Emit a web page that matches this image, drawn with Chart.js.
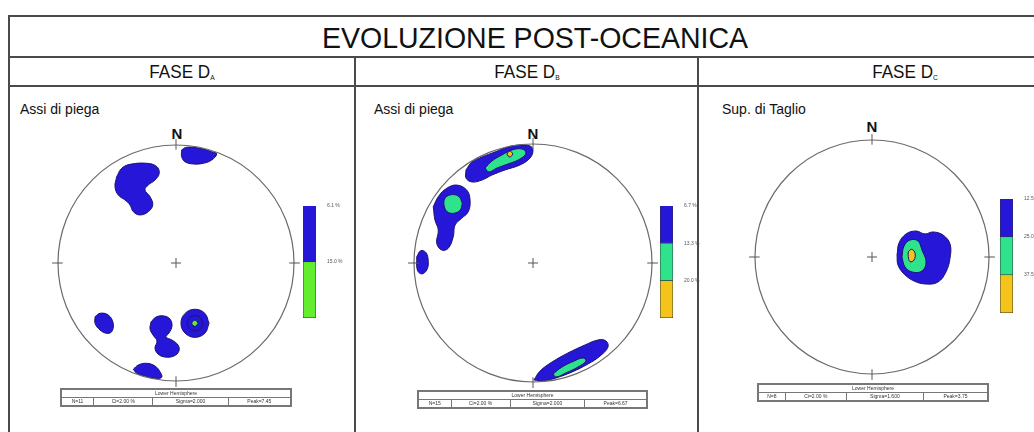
<!DOCTYPE html>
<html>
<head>
<meta charset="utf-8">
<script src="https://cdn.jsdelivr.net/npm/chart.js@4.4.1/dist/chart.umd.min.js"></script>
<style>
  body { margin: 0; width: 1034px; height: 432px; overflow: hidden; background: #fff;
         position: relative; font-family: "Liberation Sans", Arial, sans-serif; color: #111; }
  .line { position: absolute; background: #4a4a4a; }
  .txt { position: absolute; white-space: nowrap; }
  .title { left: 300px; width: 470px; top: 21px; text-align: center; font-size: 30px; line-height: 34px;
           transform: scaleX(0.95); }
  .fase { top: 62px; width: 200px; text-align: center; font-size: 18px; line-height: 20px; transform: scaleX(0.95); }
  .fase sub { font-size: 7px; vertical-align: -2px; }
  .lab { top: 101px; font-size: 14px; }
  .north { font-weight: bold; font-size: 15px; width: 20px; text-align: center; }
  canvas { position: absolute; }
  table.foot { position: absolute; border-collapse: collapse; border: 2px solid #777;
               font-size: 5px; line-height: 7px; color: #333; }
  table.foot td { border: 1px solid #777; text-align: center; padding: 0; height: 7px; }
</style>
</head>
<body>
<!-- frame -->
<div class="line" style="left:8px;top:15px;width:1040px;height:2px"></div>
<div class="line" style="left:8px;top:15px;width:2px;height:430px"></div>
<div class="line" style="left:8px;top:56px;width:1040px;height:2px"></div>
<div class="line" style="left:8px;top:85px;width:1040px;height:2px"></div>
<div class="line" style="left:354px;top:56px;width:2px;height:380px"></div>
<div class="line" style="left:697px;top:56px;width:2px;height:380px"></div>

<div class="txt title">EVOLUZIONE POST-OCEANICA</div>
<div class="txt fase" style="left:82px">FASE D<sub>A</sub></div>
<div class="txt fase" style="left:427px">FASE D<sub>B</sub></div>
<div class="txt fase" style="left:805px">FASE D<sub>C</sub></div>

<div class="txt lab" style="left:20px">Assi di piega</div>
<div class="txt lab" style="left:374px">Assi di piega</div>
<div class="txt lab" style="left:722px">Sup. di Taglio</div>

<div class="txt north" style="left:167px;top:125px">N</div>
<div class="txt north" style="left:523px;top:125px">N</div>
<div class="txt north" style="left:862px;top:118px">N</div>

<canvas id="netA" width="270" height="270" style="left:41px;top:128px"></canvas>
<canvas id="netB" width="270" height="270" style="left:398px;top:128px"></canvas>
<canvas id="netC" width="270" height="270" style="left:737px;top:122px"></canvas>

<canvas id="barA" width="52" height="124" style="left:302px;top:200px"></canvas>
<canvas id="barB" width="52" height="124" style="left:659px;top:200px"></canvas>
<canvas id="barC" width="52" height="126" style="left:999px;top:193px"></canvas>

<table class="foot" style="left:60px;top:388px;width:232px">
  <tr><td colspan="4">Lower Hemisphere</td></tr>
  <tr><td>N=11</td><td>Ci=2.00 %</td><td>Sigma=2.000</td><td>Peak=7.45</td></tr>
</table>
<table class="foot" style="left:417px;top:390px;width:231px">
  <tr><td colspan="4">Lower Hemisphere</td></tr>
  <tr><td>N=15</td><td>Ci=2.00 %</td><td>Sigma=2.000</td><td>Peak=6.67</td></tr>
</table>
<table class="foot" style="left:757px;top:383px;width:232px">
  <tr><td colspan="4">Lower Hemisphere</td></tr>
  <tr><td>N=8</td><td>Ci=2.00 %</td><td>Sigma=1.600</td><td>Peak=3.75</td></tr>
</table>

<script>
// === Colours ===
const BLUE = "#2616d8";
const LIME = "#62ee2e";
const SPRING = "#2fe38c";
const GOLD = "#f4c41a";
const EDGE = "#1a1470";

// === Legend levels (density classes) ===
const levelsA = ["6.1 %", "15.0 %"];
const levelsB = ["6.7 %", "13.3 %", "20.0 %"];
const levelsC = ["12.5 %", "25.0 %", "37.5 %"];
const colorsA = [BLUE, LIME];
const colorsB = [BLUE, SPRING, GOLD];
const colorsC = [BLUE, SPRING, GOLD];

// === Contour outlines, stereonet units (x = E, y = N, primitive radius 1) ===
// Fase DA
const faseA_blue = [
  [[0.048,0.958],[0.09,0.981],[0.203,0.972],[0.303,0.943],[0.345,0.924],[0.303,0.873],[0.232,0.845],[0.147,0.839],[0.076,0.858],[0.048,0.901]],
  [[-0.503,0.731],[-0.46,0.803],[-0.39,0.836],[-0.248,0.845],[-0.164,0.818],[-0.142,0.76],[-0.178,0.703],[-0.235,0.661],[-0.263,0.619],[-0.22,0.562],[-0.197,0.492],[-0.235,0.435],[-0.305,0.407],[-0.362,0.435],[-0.39,0.492],[-0.432,0.534],[-0.489,0.576],[-0.517,0.647]],
  [[-0.686,-0.455],[-0.644,-0.426],[-0.574,-0.441],[-0.532,-0.511],[-0.545,-0.582],[-0.587,-0.596],[-0.644,-0.568],[-0.686,-0.511]],
  [[-0.212,-0.5],[-0.169,-0.458],[-0.102,-0.449],[-0.051,-0.475],[-0.034,-0.534],[-0.059,-0.593],[-0.085,-0.627],[-0.034,-0.653],[0.017,-0.695],[0.025,-0.746],[-0.017,-0.788],[-0.093,-0.797],[-0.153,-0.771],[-0.178,-0.72],[-0.161,-0.661],[-0.195,-0.61],[-0.22,-0.559]],
  [[0.28,-0.511],[0.245,-0.427],[0.161,-0.392],[0.077,-0.427],[0.042,-0.511],[0.077,-0.595],[0.161,-0.63],[0.245,-0.595]],
  [[-0.362,-0.901],[-0.319,-0.864],[-0.248,-0.85],[-0.178,-0.873],[-0.136,-0.921],[-0.121,-0.969],[-0.178,-0.977],[-0.263,-0.958],[-0.333,-0.935]]
];
const faseA_ring = [
  [[0.226,-0.511],[0.207,-0.465],[0.161,-0.446],[0.115,-0.465],[0.096,-0.511],[0.115,-0.557],[0.161,-0.576],[0.207,-0.557]]
];
const faseA_green = [
  [[0.188,-0.511],[0.161,-0.484],[0.134,-0.511],[0.161,-0.538]]
];

// Fase DB
const faseB_blue = [
  [[-0.563,0.782],[-0.513,0.849],[-0.429,0.891],[-0.319,0.933],[-0.21,0.975],[-0.109,0.992],[-0.025,0.983],[0,0.95],[-0.025,0.882],[-0.109,0.824],[-0.235,0.782],[-0.345,0.739],[-0.429,0.697],[-0.513,0.681],[-0.563,0.714]],
  [[-0.838,0.473],[-0.796,0.557],[-0.725,0.628],[-0.641,0.655],[-0.557,0.613],[-0.529,0.529],[-0.544,0.431],[-0.599,0.376],[-0.655,0.319],[-0.67,0.221],[-0.712,0.124],[-0.767,0.109],[-0.809,0.166],[-0.796,0.277],[-0.824,0.361]],
  [[-0.977,0.053],[-0.944,0.103],[-0.899,0.087],[-0.88,0.011],[-0.893,-0.059],[-0.935,-0.092],[-0.972,-0.059]],
  [[0.008,-0.983],[0.059,-0.908],[0.16,-0.832],[0.294,-0.756],[0.437,-0.689],[0.546,-0.647],[0.613,-0.655],[0.63,-0.706],[0.563,-0.782],[0.462,-0.849],[0.328,-0.916],[0.193,-0.966],[0.092,-0.99]]
];
const faseB_green = [
  [[-0.403,0.798],[-0.345,0.857],[-0.261,0.908],[-0.176,0.95],[-0.092,0.958],[-0.059,0.924],[-0.109,0.874],[-0.21,0.832],[-0.303,0.798],[-0.37,0.765]],
  [[-0.594,0.5],[-0.62,0.556],[-0.675,0.575],[-0.735,0.55],[-0.748,0.49],[-0.72,0.43],[-0.665,0.418],[-0.612,0.445]],
  [[0.168,-0.933],[0.244,-0.874],[0.345,-0.824],[0.42,-0.798],[0.445,-0.824],[0.378,-0.874],[0.277,-0.924],[0.193,-0.958]]
];
const faseB_gold = [
  [[-0.168,0.916],[-0.193,0.941],[-0.218,0.916],[-0.193,0.891]]
];

// Fase DC
const faseC_blue = [
  [[0.214,0.017],[0.231,0.12],[0.291,0.197],[0.376,0.222],[0.453,0.197],[0.521,0.214],[0.607,0.188],[0.667,0.111],[0.667,-0.009],[0.632,-0.128],[0.564,-0.214],[0.462,-0.231],[0.359,-0.205],[0.274,-0.145],[0.222,-0.068]]
];
const faseC_green = [
  [[0.256,0],[0.274,0.094],[0.325,0.145],[0.393,0.137],[0.427,0.06],[0.462,-0.043],[0.427,-0.12],[0.342,-0.128],[0.282,-0.085]]
];
const faseC_gold = [
  [[0.31,0.045],[0.339,0.066],[0.368,0.032],[0.359,-0.026],[0.325,-0.04],[0.31,0.003]]
];

// === Stereonet frame plugin: primitive circle, cardinal ticks, centre cross ===
const netFrame = {
  id: "netFrame",
  afterDatasetsDraw(chart) {
    const { ctx, scales: { x, y } } = chart;
    const cx = x.getPixelForValue(0), cy = y.getPixelForValue(0);
    const r = x.getPixelForValue(1) - cx;
    ctx.save();
    ctx.strokeStyle = "#6a6a6a";
    ctx.lineWidth = 1.2;
    ctx.beginPath();
    ctx.arc(cx, cy, r, 0, Math.PI * 2);
    ctx.stroke();
    ctx.strokeStyle = "#555";
    ctx.lineWidth = 1;
    ctx.beginPath();
    ctx.moveTo(cx, cy - r * 1.05); ctx.lineTo(cx, cy - r * 0.96);
    ctx.moveTo(cx, cy + r * 1.05); ctx.lineTo(cx, cy + r * 0.96);
    ctx.moveTo(cx - r * 1.05, cy); ctx.lineTo(cx - r * 0.96, cy);
    ctx.moveTo(cx + r * 1.05, cy); ctx.lineTo(cx + r * 0.96, cy);
    ctx.moveTo(cx - 5, cy); ctx.lineTo(cx + 5, cy);
    ctx.moveTo(cx, cy - 5); ctx.lineTo(cx, cy + 5);
    ctx.stroke();
    ctx.restore();
  },
};

function shapeSets(polys, color, order, filled = true) {
  return polys.map((pts) => ({
    data: [...pts, pts[0]].map(([x, y]) => ({ x, y })),
    showLine: true,
    fill: filled ? "shape" : false,
    tension: 0.4,
    backgroundColor: color,
    borderColor: EDGE,
    borderWidth: 1,
    pointRadius: 0,
    order,
  }));
}

function makeNet(id, radiusPx, layers) {
  const half = 135 / radiusPx;
  const datasets = layers.flatMap((l, i) => shapeSets(l.polys, l.color, layers.length - i, l.filled !== false));
  new Chart(document.getElementById(id), {
    type: "scatter",
    data: { datasets },
    options: {
      responsive: false,
      animation: false,
      layout: { padding: 0 },
      plugins: { legend: { display: false }, tooltip: { enabled: false } },
      scales: {
        x: { type: "linear", min: -half, max: half, display: false },
        y: { type: "linear", min: -half, max: half, display: false },
      },
    },
    plugins: [netFrame],
  });
}

function makeLegendBar(id, levels, colors) {
  new Chart(document.getElementById(id), {
    type: "bar",
    data: {
      labels: [""],
      datasets: levels.map((lv, i) => ({
        label: lv,
        data: [1],
        backgroundColor: colors[i],
        borderColor: "#333",
        borderWidth: 0.8,
        barPercentage: 1,
        categoryPercentage: 1,
      })),
    },
    options: {
      responsive: false,
      animation: false,
      layout: { padding: { left: 1, top: 4, bottom: 4 } },
      plugins: { legend: { display: false }, tooltip: { enabled: false } },
      scales: {
        x: { stacked: true, display: false },
        y: {
          stacked: true,
          position: "right",
          reverse: true,
          min: 0,
          max: levels.length,
          grid: { display: false },
          border: { display: false },
          afterFit: (s) => { s.width = 38; },
          ticks: {
            stepSize: 1,
            padding: 3,
            color: "#555",
            font: { size: 5, family: "Liberation Sans" },
            callback: (v) => levels[v] ?? "",
          },
        },
      },
    },
  });
}

// === Build charts ===
makeNet("netA", 118, [
  { polys: faseA_blue, color: BLUE },
  { polys: faseA_ring, color: BLUE, filled: false },
  { polys: faseA_green, color: LIME },
]);
makeNet("netB", 119, [
  { polys: faseB_blue, color: BLUE },
  { polys: faseB_green, color: SPRING },
  { polys: faseB_gold, color: GOLD },
]);
makeNet("netC", 117, [
  { polys: faseC_blue, color: BLUE },
  { polys: faseC_green, color: SPRING },
  { polys: faseC_gold, color: GOLD },
]);

makeLegendBar("barA", levelsA, colorsA);
makeLegendBar("barB", levelsB, colorsB);
makeLegendBar("barC", levelsC, colorsC);
</script>
</body>
</html>
